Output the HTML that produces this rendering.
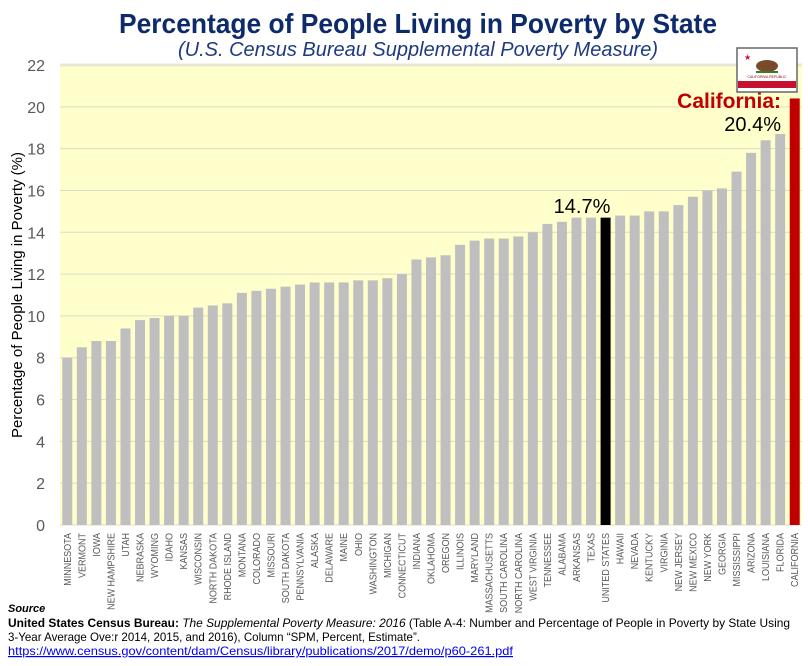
<!DOCTYPE html>
<html><head><meta charset="utf-8"><style>
body{margin:0;background:#fff;width:808px;height:661px;overflow:hidden;font-family:"Liberation Sans",sans-serif}
</style></head><body>
<svg width="808" height="661" xmlns="http://www.w3.org/2000/svg">
<text x="418" y="33" text-anchor="middle" font-size="28" font-weight="bold" fill="#0d2a6b" textLength="598" lengthAdjust="spacingAndGlyphs">Percentage of People Living in Poverty by State</text>
<text x="418" y="56" text-anchor="middle" font-size="20" font-style="italic" fill="#1f3a80" textLength="480" lengthAdjust="spacingAndGlyphs">(U.S. Census Bureau Supplemental Poverty Measure)</text>
<rect x="60" y="65" width="742" height="460" fill="#ffffcc"/>
<g id="grid"></g><g id="bars"></g><g id="yticks"></g><g id="xlabels"></g>
<text transform="translate(22,295) rotate(-90)" text-anchor="middle" font-size="15" fill="#000">Percentage of People Living in Poverty (%)</text>
<text x="582" y="213" text-anchor="middle" font-size="20" fill="#000">14.7%</text>
<text x="781" y="108" text-anchor="end" font-size="21" font-weight="bold" fill="#c00000">California:</text>
<text x="781" y="131" text-anchor="end" font-size="20" fill="#000">20.4%</text>
<g>
<rect x="737" y="48" width="60" height="44" fill="#fff" stroke="#666" stroke-width="1.5"/>
<rect x="738" y="81" width="58" height="7" fill="#c8102e"/>
<text x="744" y="60" font-size="8" fill="#c8102e">★</text>
<ellipse cx="767" cy="66" rx="11" ry="6" fill="#7a4a2a"/>
<rect x="756" y="71" width="22" height="2" fill="#3a7a2a"/>
<text x="767" y="78" text-anchor="middle" font-size="3.5" fill="#800">CALIFORNIA REPUBLIC</text>
</g>
<text x="8" y="612" font-size="11" font-weight="bold" font-style="italic" fill="#000">Source</text>
<text x="8" y="627" font-size="12" fill="#000" textLength="782" lengthAdjust="spacingAndGlyphs"><tspan font-weight="bold">United States Census Bureau:</tspan> <tspan font-style="italic">The Supplemental Poverty Measure: 2016</tspan> (Table A-4: Number and Percentage of People in Poverty by State Using</text>
<text x="8" y="641" font-size="12" fill="#000" textLength="412" lengthAdjust="spacingAndGlyphs">3-Year Average Ove:r 2014, 2015, and 2016), Column “SPM, Percent, Estimate”.</text>
<text x="8" y="655" font-size="12" fill="#0000ee" text-decoration="underline" textLength="505" lengthAdjust="spacingAndGlyphs">https://www.census.gov/content/dam/Census/library/publications/2017/demo/p60-261.pdf</text>
</svg>
<script>
const states=["MINNESOTA","VERMONT","IOWA","NEW HAMPSHIRE","UTAH","NEBRASKA","WYOMING","IDAHO","KANSAS","WISCONSIN","NORTH DAKOTA","RHODE ISLAND","MONTANA","COLORADO","MISSOURI","SOUTH DAKOTA","PENNSYLVANIA","ALASKA","DELAWARE","MAINE","OHIO","WASHINGTON","MICHIGAN","CONNECTICUT","INDIANA","OKLAHOMA","OREGON","ILLINOIS","MARYLAND","MASSACHUSETTS","SOUTH CAROLINA","NORTH CAROLINA","WEST VIRGINIA","TENNESSEE","ALABAMA","ARKANSAS","TEXAS","UNITED STATES","HAWAII","NEVADA","KENTUCKY","VIRGINIA","NEW JERSEY","NEW MEXICO","NEW YORK","GEORGIA","MISSISSIPPI","ARIZONA","LOUISIANA","FLORIDA","CALIFORNIA"];
const values=[8.0,8.5,8.8,8.8,9.4,9.8,9.9,10.0,10.0,10.4,10.5,10.6,11.1,11.2,11.3,11.4,11.5,11.6,11.6,11.6,11.7,11.7,11.8,12.0,12.7,12.8,12.9,13.4,13.6,13.7,13.7,13.8,14.0,14.4,14.5,14.7,14.7,14.7,14.8,14.8,15.0,15.0,15.3,15.7,16.0,16.1,16.9,17.8,18.4,18.7,20.4];
const yTicks=[0,2,4,6,8,10,12,14,16,18,20,22];
const NS="http://www.w3.org/2000/svg";
const X0=60,X1=802,Y0=525,Y1=65,YMAX=22;
const y=v=>Y0-(v/YMAX)*(Y0-Y1);
const step=(X1-X0)/states.length;
const xc=i=>X0+step*(i+0.5);
function mk(t,a,p){const e=document.createElementNS(NS,t);for(const k in a)e.setAttribute(k,a[k]);document.getElementById(p).appendChild(e);return e;}
yTicks.forEach(t=>{
 const l=mk("line",{x1:X0,x2:X1,y1:y(t),y2:y(t),stroke:t==22?"#e8e8d0":"#dcdcc8","stroke-width":t==22?3:1},"grid");
 
 
 const tx=mk("text",{x:45,y:y(t)+6,"text-anchor":"end","font-size":16,fill:"#595959"},"yticks");
 tx.textContent=t;
 
 
});
states.forEach((s,i)=>{
 const c=s=="UNITED STATES"?"#000":s=="CALIFORNIA"?"#c00000":"#bfbfbf";
 const b=mk("rect",{x:xc(i)-5,y:y(values[i]),width:10,height:Y0-y(values[i]),fill:c},"bars");
 
 
 const t=mk("text",{transform:`translate(${xc(i)+3.5},533) rotate(-90) scale(0.9,1)`,"text-anchor":"end","font-size":10,fill:"#595959"},"xlabels");
 t.textContent=s;
 
 
});
</script>
</body></html>
